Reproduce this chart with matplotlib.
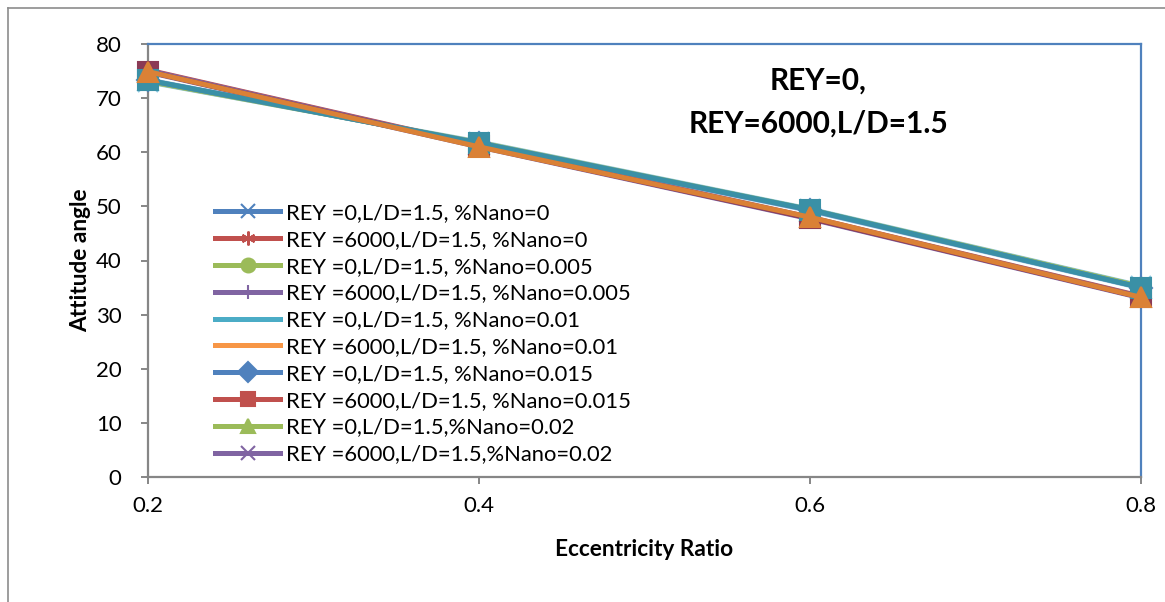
import matplotlib
matplotlib.use("Agg")
import matplotlib.pyplot as plt
from matplotlib.lines import Line2D

plt.rcParams["font.family"] = ["Lato", "DejaVu Sans"]

ecc = [0.2, 0.4, 0.6, 0.8]

# attitude angle, REY = 0
rey0_n000 = [73.0, 61.9, 49.5, 35.3]
rey0_n005 = [73.1, 61.8, 49.4, 35.2]
rey0_n010 = [73.3, 61.7, 49.4, 35.0]
rey0_n015 = [73.3, 61.7, 49.3, 35.0]
rey0_n020 = [73.4, 61.6, 49.2, 34.9]

# attitude angle, REY = 6000
rey6k_n000 = [75.2, 61.3, 48.0, 33.4]
rey6k_n005 = [75.1, 61.2, 47.9, 33.3]
rey6k_n010 = [74.9, 61.0, 48.0, 33.2]
rey6k_n015 = [74.9, 61.1, 47.8, 33.2]
rey6k_n020 = [74.8, 61.0, 47.7, 33.1]

labels = [
    "REY =0,L/D=1.5, %Nano=0",
    "REY =6000,L/D=1.5, %Nano=0",
    "REY =0,L/D=1.5, %Nano=0.005",
    "REY =6000,L/D=1.5, %Nano=0.005",
    "REY =0,L/D=1.5, %Nano=0.01",
    "REY =6000,L/D=1.5, %Nano=0.01",
    "REY =0,L/D=1.5, %Nano=0.015",
    "REY =6000,L/D=1.5, %Nano=0.015",
    "REY =0,L/D=1.5,%Nano=0.02",
    "REY =6000,L/D=1.5,%Nano=0.02",
]
series = [rey0_n000, rey6k_n000, rey0_n005, rey6k_n005, rey0_n010,
          rey6k_n010, rey0_n015, rey6k_n015, rey0_n020, rey6k_n020]

blue, red, green, purple = "#4F81BD", "#C0504D", "#9BBB59", "#8064A2"
aqua, orange = "#4BACC6", "#F79646"
asterisk = (6, 2, 0)
leg_colors = [blue, red, green, purple, aqua, orange, blue, red, green, purple]
leg_markers = ["x", asterisk, "o", "+", None, None, "D", "s", "^", "x"]

# styles on the plot: the two 0.01 curves sit on top of the rest
plot_styles = [
    dict(color="#8CC8E0", marker="x", size=15, z=3),
    dict(color=red, marker=asterisk, size=11, z=3),
    dict(color=green, marker="o", size=11, z=3),
    dict(color=purple, marker="+", size=11, z=3),
    dict(color="#3A90A6", marker="s", size=15, z=6),
    dict(color="#DA8136", marker="^", size=15, z=7),
    dict(color=blue, marker="D", size=11, z=4),
    dict(color="#8B3A55", marker="s", size=14, z=5),
    dict(color="#A9D4E0", marker="^", size=15, z=2),
    dict(color=purple, marker="x", size=11, z=4),
]

fig = plt.figure(figsize=(11.65, 6.02), dpi=100)
ax = fig.add_axes([148 / 1165, 1 - 477 / 602, 993 / 1165, 433 / 602])

for vals, st in zip(series, plot_styles):
    ax.plot(ecc, vals, color=st["color"], lw=3.6, marker=st["marker"],
            markersize=st["size"], mec=st["color"], mew=1.5, zorder=st["z"],
            clip_on=False)

ax.set_xlim(0.2, 0.8)
ax.set_ylim(0, 80)
ax.set_xticks(ecc)
ax.set_xticklabels(["0.2", "0.4", "0.6", "0.8"])
ax.set_yticks(range(0, 81, 10))

grey = "#868686"
for side in ("left", "bottom"):
    ax.spines[side].set_color(grey)
    ax.spines[side].set_linewidth(1.6)
for side in ("top", "right"):
    ax.spines[side].set_color("#4F81BD")
    ax.spines[side].set_linewidth(1.6)
ax.tick_params(axis="both", direction="out", length=5, width=1.4,
               color=grey, labelsize=16)
ax.tick_params(axis="y", pad=14)
ax.tick_params(axis="x", pad=9)

ax.set_xlabel("Eccentricity Ratio", fontsize=16.3, fontweight="bold", labelpad=16)
ax.set_ylabel("Attitude angle", fontsize=16.3, fontweight="bold", labelpad=3)

ax.text(0.675, 0.915, "REY=0,", transform=ax.transAxes, ha="center",
        va="center", fontsize=21.5, fontweight="bold")
ax.text(0.675, 0.817, "REY=6000,L/D=1.5", transform=ax.transAxes,
        ha="center", va="center", fontsize=21.5, fontweight="bold")

handles = [Line2D([], [], color=c, lw=3.6, marker=m, markersize=10,
                  mec=c, mew=1.5) for c, m in zip(leg_colors, leg_markers)]
ax.legend(handles, labels, loc="upper left",
          bbox_to_anchor=(215 / 1165, 1 - 203 / 602),
          bbox_transform=fig.transFigure, frameon=False, fontsize=15.8,
          handlelength=2.97, handletextpad=0.27, labelspacing=0.31,
          borderpad=0, borderaxespad=0)

# outer chart border
fig.add_artist(Line2D([8 / 1165, 8 / 1165], [0, 1 - 8 / 602],
                      transform=fig.transFigure, color="#8C8C8C", lw=1.2))
fig.add_artist(Line2D([8 / 1165, 1], [1 - 8 / 602, 1 - 8 / 602],
                      transform=fig.transFigure, color="#8C8C8C", lw=1.2))

fig.savefig("out.png", dpi=100)
